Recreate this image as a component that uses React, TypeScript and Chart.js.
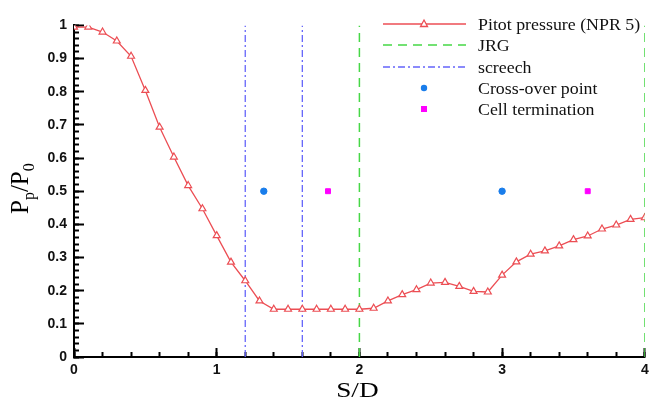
import React, { useEffect, useRef } from "react";
import { Chart, registerables } from "chart.js";

Chart.register(...registerables);

// S/D positions and Pitot pressure ratio
const sdValues = [
  0, 0.1, 0.2, 0.3, 0.4, 0.5, 0.6, 0.7, 0.8, 0.9, 1.0,
  1.1, 1.2, 1.3, 1.4, 1.5, 1.6, 1.7, 1.8, 1.9, 2.0,
  2.1, 2.2, 2.3, 2.4, 2.5, 2.6, 2.7, 2.8, 2.9, 3.0,
  3.1, 3.2, 3.3, 3.4, 3.5, 3.6, 3.7, 3.8, 3.9, 4.0,
];
const pitotValues = [
  0.995, 0.995, 0.98, 0.953, 0.907, 0.804, 0.693, 0.603, 0.517, 0.447, 0.366,
  0.286, 0.23, 0.169, 0.144, 0.144, 0.144, 0.144, 0.144, 0.144, 0.144,
  0.147, 0.169, 0.188, 0.203, 0.223, 0.225, 0.213, 0.198, 0.196, 0.247,
  0.287, 0.31, 0.32, 0.335, 0.354, 0.365, 0.386, 0.398, 0.415, 0.42,
];
const jrgPositions = [2.0, 4.0];
const screechPositions = [1.2, 1.6];
const crossOverX = [1.33, 3.0];
const crossOverY = [0.5, 0.5];
const cellTermX = [1.78, 3.6];
const cellTermY = [0.5, 0.5];
const legendLabels = [
  "Pitot pressure (NPR 5)",
  "JRG",
  "screech",
  "Cross-over point",
  "Cell termination",
];

const RED = "rgb(236,78,84)";
const GREEN = "rgb(70,215,70)";
const BLUE = "rgb(100,100,250)";
const CROSS = "rgb(25,125,235)";
const MAGENTA = "rgb(255,0,255)";
const JRG_DASH = [9, 6];
const SCREECH_DASH = [7, 3, 2, 3];

function vLines(xs: number[]) {
  const pts: { x: number; y: number | null }[] = [];
  xs.forEach((x, i) => {
    if (i > 0) pts.push({ x, y: null });
    pts.push({ x, y: 0 });
    pts.push({ x, y: 1 });
  });
  return pts;
}

const decorPlugin = {
  id: "decor",
  afterDraw(chart: any) {
    const ctx: CanvasRenderingContext2D = chart.ctx;
    const area = chart.chartArea;
    ctx.save();
    ctx.setLineDash([]);

    // axis titles
    ctx.fillStyle = "#000";
    ctx.textBaseline = "alphabetic";
    ctx.textAlign = "left";
    ctx.save();
    ctx.translate(28, 214);
    ctx.rotate(-Math.PI / 2);
    const big = "25px 'Liberation Serif'";
    const small = "16px 'Liberation Serif'";
    let cx = 0;
    ctx.font = big;
    ctx.fillText("P", cx, 0);
    cx += ctx.measureText("P").width;
    ctx.font = small;
    ctx.fillText("p", cx, 6);
    cx += ctx.measureText("p").width;
    ctx.font = big;
    ctx.fillText("/", cx, 0);
    cx += ctx.measureText("/").width;
    ctx.fillText("P", cx, 0);
    cx += ctx.measureText("P").width;
    ctx.font = small;
    ctx.fillText("0", cx, 6);
    ctx.restore();

    ctx.save();
    ctx.font = "21px 'Liberation Serif'";
    ctx.textAlign = "center";
    ctx.translate((area.left + area.right) / 2 - 2, 397);
    ctx.scale(1.3, 1);
    ctx.fillText("S/D", 0, 0);
    ctx.restore();

    // legend
    const rows = [24, 45, 67, 88, 109];
    const lx0 = 383;
    const lx1 = 466;
    const mx = 424;
    ctx.lineWidth = 1.3;
    ctx.strokeStyle = RED;
    ctx.beginPath();
    ctx.moveTo(lx0, rows[0]);
    ctx.lineTo(lx1, rows[0]);
    ctx.stroke();
    ctx.fillStyle = "#fff";
    ctx.beginPath();
    ctx.moveTo(mx, rows[0] - 4);
    ctx.lineTo(mx + 3.5, rows[0] + 2.5);
    ctx.lineTo(mx - 3.5, rows[0] + 2.5);
    ctx.closePath();
    ctx.fill();
    ctx.stroke();
    ctx.strokeStyle = GREEN;
    ctx.setLineDash(JRG_DASH);
    ctx.beginPath();
    ctx.moveTo(lx0, rows[1]);
    ctx.lineTo(lx1, rows[1]);
    ctx.stroke();
    ctx.strokeStyle = BLUE;
    ctx.setLineDash(SCREECH_DASH);
    ctx.beginPath();
    ctx.moveTo(lx0, rows[2]);
    ctx.lineTo(lx1, rows[2]);
    ctx.stroke();
    ctx.setLineDash([]);
    ctx.fillStyle = CROSS;
    ctx.beginPath();
    ctx.arc(mx, rows[3], 3.2, 0, Math.PI * 2);
    ctx.fill();
    ctx.fillStyle = MAGENTA;
    ctx.fillRect(mx - 3, rows[4] - 3, 6, 6);

    ctx.fillStyle = "#111";
    ctx.textAlign = "left";
    ctx.font = "17px 'Liberation Serif'";
    legendLabels.forEach((t, i) => {
      ctx.save();
      ctx.translate(478, rows[i] + 6);
      ctx.scale(1.05, 1);
      ctx.fillText(t, 0, 0);
      ctx.restore();
    });
    ctx.restore();
  },
};

const fmt = (v: any) => String(Number(Number(v).toFixed(1)));
const tickFont = { family: "'Liberation Sans'", size: 14, weight: "bold" as const };

export default function App() {
  const ref = useRef<HTMLCanvasElement>(null);
  useEffect(() => {
    document.body.style.margin = "0";
    const canvas = ref.current!;
    const chart = new Chart(canvas, {
      type: "line",
      data: {
        datasets: [
          {
            label: "JRG",
            data: vLines(jrgPositions) as any,
            xAxisID: "x",
            yAxisID: "y",
            borderColor: GREEN,
            borderWidth: 1.5,
            borderDash: JRG_DASH,
            pointRadius: 0,
            spanGaps: false,
            order: 3,
          },
          {
            label: "screech",
            data: vLines(screechPositions) as any,
            xAxisID: "x",
            yAxisID: "y",
            borderColor: BLUE,
            borderWidth: 1.3,
            borderDash: SCREECH_DASH,
            pointRadius: 0,
            spanGaps: false,
            order: 3,
          },
          {
            label: "Pitot pressure (NPR 5)",
            data: sdValues.map((x, i) => ({ x, y: pitotValues[i] })),
            xAxisID: "x",
            yAxisID: "y",
            borderColor: RED,
            borderWidth: 1.3,
            pointStyle: "triangle",
            pointRadius: 4,
            pointBorderWidth: 1.2,
            pointBorderColor: RED,
            pointBackgroundColor: "#fff",
            tension: 0,
            order: 1,
          },
          {
            label: "Cross-over point",
            data: crossOverX.map((x, i) => ({ x, y: crossOverY[i] })),
            xAxisID: "x",
            yAxisID: "y",
            showLine: false,
            pointStyle: "circle",
            pointRadius: 3.2,
            pointBackgroundColor: CROSS,
            pointBorderColor: CROSS,
            order: 0,
          },
          {
            label: "Cell termination",
            data: cellTermX.map((x, i) => ({ x, y: cellTermY[i] })),
            xAxisID: "x",
            yAxisID: "y",
            showLine: false,
            pointStyle: "rect",
            pointRadius: 3.5,
            pointBackgroundColor: MAGENTA,
            pointBorderColor: MAGENTA,
            order: 0,
          },
        ],
      },
      options: {
        animation: false,
        responsive: false,
        layout: { padding: { top: 15, right: 3 } },
        plugins: { legend: { display: false }, tooltip: { enabled: false } },
        scales: {
          x: {
            type: "linear",
            axis: "x",
            position: "bottom",
            weight: 10,
            min: 0,
            max: 4,
            grid: {
              display: true,
              drawOnChartArea: false,
              drawTicks: true,
              tickLength: -9,
              tickWidth: 2,
              tickColor: "#000",
            },
            border: { display: true, color: "#000", width: 2 },
            ticks: {
              stepSize: 1,
              padding: 14,
              color: "#111",
              font: tickFont,
              maxRotation: 0,
              autoSkip: false,
              callback: fmt,
            },
            afterFit: (s: any) => {
              s.height = 49;
              s.paddingLeft = 0;
              s.paddingRight = 0;
            },
          },
          xMinor: {
            type: "linear",
            axis: "x",
            position: "bottom",
            weight: -10,
            min: 0,
            max: 4,
            grid: {
              display: true,
              drawOnChartArea: false,
              drawTicks: true,
              tickLength: -5,
              tickWidth: 2,
              tickColor: "#000",
            },
            border: { display: false },
            ticks: { stepSize: 0.2, display: false, autoSkip: false },
            afterFit: (s: any) => {
              s.height = 0;
              s.paddingLeft = 0;
              s.paddingRight = 0;
            },
          },
          y: {
            type: "linear",
            axis: "y",
            position: "left",
            weight: 10,
            min: 0,
            max: 1,
            grid: {
              display: true,
              drawOnChartArea: false,
              drawTicks: true,
              tickLength: -10,
              tickWidth: 2,
              tickColor: "#000",
            },
            border: { display: true, color: "#000", width: 2 },
            ticks: {
              stepSize: 0.1,
              padding: 17,
              color: "#111",
              font: tickFont,
              autoSkip: false,
              callback: fmt,
            },
            afterFit: (s: any) => {
              s.width = 74;
            },
          },
          yMinor: {
            type: "linear",
            axis: "y",
            position: "left",
            weight: -10,
            min: 0,
            max: 1,
            grid: {
              display: true,
              drawOnChartArea: false,
              drawTicks: true,
              tickLength: -5,
              tickWidth: 2,
              tickColor: "#000",
            },
            border: { display: false },
            ticks: { stepSize: 0.02, display: false, autoSkip: false },
            afterFit: (s: any) => {
              s.width = 0;
            },
          },
        },
      } as any,
      plugins: [decorPlugin],
    });
    return () => chart.destroy();
  }, []);
  return <canvas ref={ref} width={650} height={406} style={{ display: "block" }} />;
}
